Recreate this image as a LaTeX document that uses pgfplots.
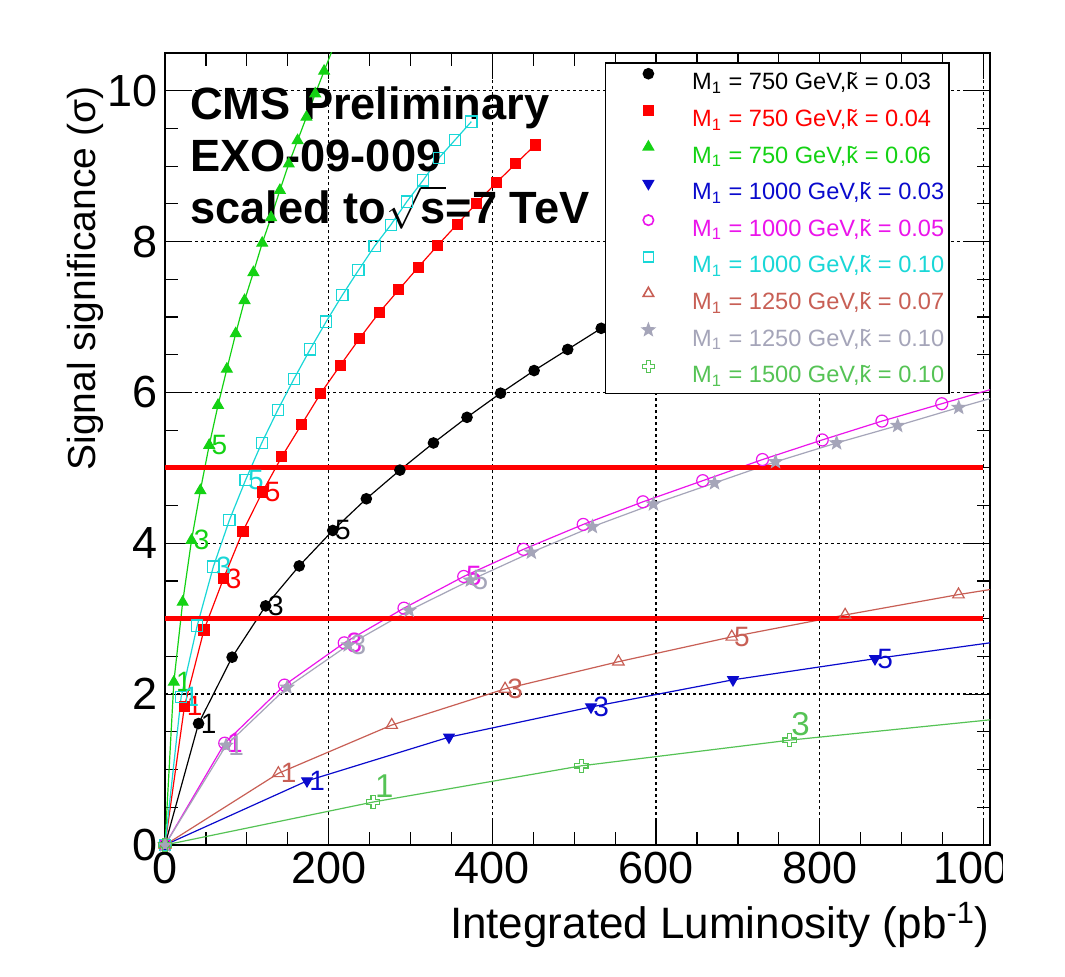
\documentclass[border=0pt]{standalone}
\usepackage{fontspec}
\setmainfont{Liberation Sans}
\usepackage{pgfplots}
\pgfplotsset{compat=1.18}
\definecolor{cgreen}{RGB}{20,210,20}
\definecolor{cblue}{RGB}{10,10,205}
\definecolor{cmag}{RGB}{235,20,235}
\definecolor{ccyan}{RGB}{25,215,215}
\definecolor{cbrown}{RGB}{200,95,85}
\definecolor{cgrey}{RGB}{165,165,185}
\definecolor{clgreen}{RGB}{85,195,85}
\pgfdeclareplotmark{fivestar}{%
  \pgfpathmoveto{\pgfpointpolar{90}{\pgfplotmarksize}}%
  \pgfpathlineto{\pgfpointpolar{126}{0.42\pgfplotmarksize}}%
  \pgfpathlineto{\pgfpointpolar{162}{\pgfplotmarksize}}%
  \pgfpathlineto{\pgfpointpolar{198}{0.42\pgfplotmarksize}}%
  \pgfpathlineto{\pgfpointpolar{234}{\pgfplotmarksize}}%
  \pgfpathlineto{\pgfpointpolar{270}{0.42\pgfplotmarksize}}%
  \pgfpathlineto{\pgfpointpolar{306}{\pgfplotmarksize}}%
  \pgfpathlineto{\pgfpointpolar{342}{0.42\pgfplotmarksize}}%
  \pgfpathlineto{\pgfpointpolar{18}{\pgfplotmarksize}}%
  \pgfpathlineto{\pgfpointpolar{54}{0.42\pgfplotmarksize}}%
  \pgfpathclose\pgfusepathqfillstroke}
\pgfdeclareplotmark{ocross}{%
  \pgfpathmoveto{\pgfpoint{0.33\pgfplotmarksize}{\pgfplotmarksize}}%
  \pgfpathlineto{\pgfpoint{0.33\pgfplotmarksize}{0.33\pgfplotmarksize}}%
  \pgfpathlineto{\pgfpoint{\pgfplotmarksize}{0.33\pgfplotmarksize}}%
  \pgfpathlineto{\pgfpoint{\pgfplotmarksize}{-0.33\pgfplotmarksize}}%
  \pgfpathlineto{\pgfpoint{0.33\pgfplotmarksize}{-0.33\pgfplotmarksize}}%
  \pgfpathlineto{\pgfpoint{0.33\pgfplotmarksize}{-\pgfplotmarksize}}%
  \pgfpathlineto{\pgfpoint{-0.33\pgfplotmarksize}{-\pgfplotmarksize}}%
  \pgfpathlineto{\pgfpoint{-0.33\pgfplotmarksize}{-0.33\pgfplotmarksize}}%
  \pgfpathlineto{\pgfpoint{-\pgfplotmarksize}{-0.33\pgfplotmarksize}}%
  \pgfpathlineto{\pgfpoint{-\pgfplotmarksize}{0.33\pgfplotmarksize}}%
  \pgfpathlineto{\pgfpoint{-0.33\pgfplotmarksize}{0.33\pgfplotmarksize}}%
  \pgfpathlineto{\pgfpoint{-0.33\pgfplotmarksize}{\pgfplotmarksize}}%
  \pgfpathclose\pgfusepathqstroke}
\tikzset{lab/.style={anchor=west, inner sep=1pt, font=\fontsize{14}{14}\selectfont},
  labg/.style={anchor=center, xshift=5.5pt, yshift=8pt, inner sep=0pt, font=\fontsize{16.5}{16.5}\selectfont}}
\begin{document}
\begin{tikzpicture}
\path[use as bounding box, fill=white] (-82.5pt,-65.5pt) rectangle (450pt,422.5pt);
\begin{scope}
\clip (-82.5pt,-65.5pt) rectangle (418.5pt,422.5pt);
\begin{axis}[
  at={(0,0)}, anchor=south west,
  scale only axis, width=412.5pt, height=396pt,
  xmin=0, xmax=1008, ymin=0, ymax=10.5,
  xtick={0,200,...,1000}, ytick={0,2,...,10},
  minor x tick num=3, minor y tick num=3,
  tick pos=both, tick align=inside,
  major tick length=13pt, minor tick length=6.5pt,
  every tick/.style={black, line width=0.6pt},
  axis line style={line width=1pt},
  grid=major, major grid style={black, line width=0.7pt, dash pattern=on 1.4pt off 1.6pt},
  tick label style={font=\fontsize{22.5}{24}\selectfont},
  /pgf/number format/assume math mode=true,
  /pgf/number format/1000 sep={},
  xlabel={Integrated Luminosity (pb\textsuperscript{-1})},
  ylabel={Signal significance (σ)},
  xlabel style={at={(axis description cs:1,-0.101)}, anchor=east, font=\fontsize{22}{24}\selectfont, inner sep=0pt},
  ylabel style={at={(axis description cs:-0.097,0.958)}, anchor=east, font=\fontsize{19.5}{22}\selectfont, inner sep=0pt},
  legend image code/.code={\path (0pt,0pt) (40.5pt,0pt); \draw[#1] plot coordinates {(19pt,4pt)};},
  legend cell align=left,
  legend style={at={(0.9515,0.9886)}, anchor=north east, draw=black, line width=0.8pt, fill=white,
    inner xsep=2pt, inner ysep=0.3pt, row sep=0pt, column sep=0pt,
    font=\fontsize{11.8}{13}\selectfont,
    nodes={inner sep=0pt, text height=13.2pt, text depth=5.1pt}},
]
\addplot[black, line width=0.6pt, mark=*, mark size=2.6pt, mark options={solid}, forget plot] coordinates {(0,0)(41,1.61)(82,2.49)(123,3.17)(164,3.70)(205,4.17)(246,4.59)(287,4.97)(328,5.33)(369,5.67)(410,5.99)(451,6.29)(492,6.57)(533,6.85)(574,7.12)(615,7.38)(656,7.62)(697,7.86)(738,8.09)(779,8.31)};
\addplot[red, line width=0.6pt, mark=square*, mark size=2.5pt, mark options={solid}, forget plot] coordinates {(0,0)(23.8,1.84)(47.6,2.85)(71.4,3.53)(95.2,4.16)(119,4.68)(142.8,5.15)(166.6,5.57)(190.4,5.99)(214.2,6.36)(238,6.72)(261.8,7.06)(285.6,7.36)(309.4,7.66)(333.2,7.95)(357,8.23)(380.8,8.51)(404.6,8.78)(428.4,9.03)(452.2,9.28)};
\addplot[cgreen, line width=0.6pt, mark=triangle*, mark size=3pt, mark options={solid}, forget plot] coordinates {(0,0)(10.8,2.16)(21.6,3.22)(32.4,4.04)(43.2,4.70)(54,5.30)(64.8,5.83)(75.6,6.31)(86.4,6.78)(97.2,7.22)(108,7.59)(118.8,7.98)(129.6,8.32)(140.4,8.68)(151.2,9.03)(162,9.34)(172.8,9.65)(183.6,9.96)(194.4,10.26)(205.2,10.56)};
\addplot[cblue, line width=0.6pt, mark=triangle*, mark size=3pt, mark options={solid, rotate=180}, forget plot] coordinates {(0,0)(173.5,0.85)(347,1.43)(520.5,1.83)(694,2.19)(867.5,2.47)(1041,2.73)};
\addplot[cmag, line width=0.6pt, mark=o, mark size=3pt, mark options={solid}, forget plot] coordinates {(0,0)(73,1.35)(146,2.12)(219,2.68)(292,3.14)(365,3.56)(438,3.92)(511,4.25)(584,4.55)(657,4.83)(730,5.11)(803,5.37)(876,5.62)(949,5.85)(1022,6.08)};
\addplot[ccyan, line width=0.6pt, mark=square, mark size=2.8pt, mark options={solid}, forget plot] coordinates {(0,0)(19.7,1.96)(39.4,2.91)(59.1,3.69)(78.8,4.31)(98.5,4.84)(118.2,5.33)(137.9,5.77)(157.6,6.18)(177.3,6.57)(197,6.94)(216.7,7.29)(236.4,7.62)(256.1,7.94)(275.8,8.22)(295.5,8.53)(315.2,8.81)(334.9,9.11)(354.6,9.35)(374.3,9.59)};
\addplot[cbrown, line width=0.6pt, mark=triangle, mark size=3.3pt, mark options={solid}, forget plot] coordinates {(0,0)(138.5,0.95)(277,1.59)(415.5,2.07)(554,2.43)(692.5,2.76)(831,3.05)(969.5,3.32)(1108,3.56)};
\addplot[cgrey, line width=0.6pt, mark=fivestar, mark size=3.3pt, mark options={solid}, forget plot] coordinates {(0,0)(74.6,1.32)(149.2,2.09)(223.8,2.65)(298.4,3.11)(373,3.51)(447.6,3.88)(522.2,4.22)(596.8,4.52)(671.4,4.80)(746,5.08)(820.6,5.33)(895.2,5.56)(969.8,5.80)(1044.4,6.03)};
\addplot[clgreen, line width=0.6pt, mark=ocross, mark size=3.3pt, mark options={solid}, forget plot] coordinates {(0,0)(254.4,0.57)(508.8,1.05)(763.2,1.39)(1017.6,1.67)};
\addplot[red, line width=2.6pt, no marks, forget plot] coordinates {(0,5)(1000,5)};
\addplot[red, line width=2.6pt, no marks, forget plot] coordinates {(0,3)(1000,3)};
% number labels
\node[lab, text=black] at (axis cs:41,1.61) {1};
\node[lab, text=black] at (axis cs:123,3.17) {3};
\node[lab, text=black] at (axis cs:205,4.17) {5};
\node[lab, text=red] at (axis cs:23.8,1.84) {1};
\node[lab, text=red] at (axis cs:71.4,3.53) {3};
\node[lab, text=red] at (axis cs:119,4.68) {5};
\node[lab, text=cgreen] at (axis cs:10.8,2.16) {1};
\node[lab, text=cgreen] at (axis cs:32.4,4.04) {3};
\node[lab, text=cgreen] at (axis cs:54,5.30) {5};
\node[lab, text=cblue] at (axis cs:173.5,0.85) {1};
\node[lab, text=cblue] at (axis cs:520.5,1.83) {3};
\node[lab, text=cblue] at (axis cs:867.5,2.47) {5};
\node[lab, text=cmag] at (axis cs:73,1.35) {1};
\node[lab, text=cmag] at (axis cs:219,2.68) {3};
\node[lab, text=cmag] at (axis cs:365,3.56) {5};
\node[lab, text=ccyan] at (axis cs:19.7,1.96) {1};
\node[lab, text=ccyan] at (axis cs:59.1,3.69) {3};
\node[lab, text=ccyan] at (axis cs:98.5,4.84) {5};
\node[lab, text=cbrown] at (axis cs:138.5,0.95) {1};
\node[lab, text=cbrown] at (axis cs:415.5,2.07) {3};
\node[lab, text=cbrown] at (axis cs:692.5,2.76) {5};
\node[lab, text=cgrey] at (axis cs:74.6,1.32) {1};
\node[lab, text=cgrey] at (axis cs:223.8,2.65) {3};
\node[lab, text=cgrey] at (axis cs:373,3.51) {5};
\node[labg, text=clgreen] at (axis cs:254.4,0.57) {1};
\node[labg, text=clgreen] at (axis cs:763.2,1.39) {3};
% title text
\node[anchor=north west, align=left, inner sep=0pt, font=\bfseries\fontsize{22.6}{26}\selectfont] at (rel axis cs:0.030,0.958) {CMS Preliminary\\EXO-09-009\\scaled to$\sqrt{\vphantom{T}\mbox{s}}$=7 TeV};
% legend
\addlegendimage{only marks, mark=*, black, mark size=2.5pt}
\addlegendentry{\makebox[126.5pt][l]{\textcolor{black}{M\textsubscript{1} = 750 GeV,\~{k} = 0.03}}}
\addlegendimage{only marks, mark=square*, red, mark size=2.4pt}
\addlegendentry{\makebox[126.5pt][l]{\textcolor{red}{M\textsubscript{1} = 750 GeV,\~{k} = 0.04}}}
\addlegendimage{only marks, mark=triangle*, cgreen, mark size=2.8pt}
\addlegendentry{\makebox[126.5pt][l]{\textcolor{cgreen}{M\textsubscript{1} = 750 GeV,\~{k} = 0.06}}}
\addlegendimage{only marks, mark=triangle*, cblue, mark size=2.8pt, mark options={rotate=180}}
\addlegendentry{\makebox[126.5pt][l]{\textcolor{cblue}{M\textsubscript{1} = 1000 GeV,\~{k} = 0.03}}}
\addlegendimage{only marks, mark=o, cmag, mark size=2.6pt}
\addlegendentry{\makebox[126.5pt][l]{\textcolor{cmag}{M\textsubscript{1} = 1000 GeV,\~{k} = 0.05}}}
\addlegendimage{only marks, mark=square, ccyan, mark size=2.5pt}
\addlegendentry{\makebox[126.5pt][l]{\textcolor{ccyan}{M\textsubscript{1} = 1000 GeV,\~{k} = 0.10}}}
\addlegendimage{only marks, mark=triangle, cbrown, mark size=3pt}
\addlegendentry{\makebox[126.5pt][l]{\textcolor{cbrown}{M\textsubscript{1} = 1250 GeV,\~{k} = 0.07}}}
\addlegendimage{only marks, mark=fivestar, cgrey, mark size=3pt}
\addlegendentry{\makebox[126.5pt][l]{\textcolor{cgrey}{M\textsubscript{1} = 1250 GeV,\~{k} = 0.10}}}
\addlegendimage{only marks, mark=ocross, clgreen, mark size=3pt}
\addlegendentry{\makebox[126.5pt][l]{\textcolor{clgreen}{M\textsubscript{1} = 1500 GeV,\~{k} = 0.10}}}
\end{axis}
\end{scope}
\end{tikzpicture}
\end{document}
